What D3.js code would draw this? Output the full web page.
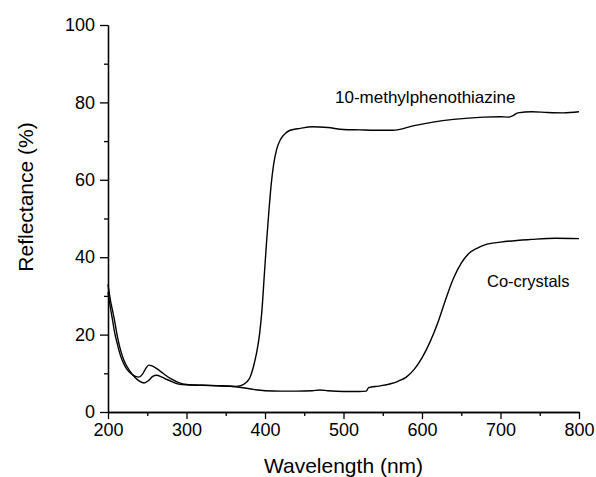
<!DOCTYPE html>
<html>
<head>
<meta charset="utf-8">
<script src="https://cdn.jsdelivr.net/npm/d3@7"></script>
<style>
  body { margin: 0; background: #fff; }
  text { font-family: Arial, "Liberation Sans", sans-serif; fill: #000; }
</style>
</head>
<body>
<svg id="svg"></svg>
<script>
'use strict';

// ================================= Data ======================================
// wavelength (nm) / reflectance (%)
var mptWave = [200, 203, 206, 208, 212, 216, 220, 225, 230, 235, 240, 246, 252, 257, 262, 268, 275, 282, 290, 300,
    320, 340, 360, 366, 372, 377, 381, 385, 389, 393, 396, 399, 402, 405, 408, 411, 415, 420, 425, 432, 445,
    460, 480, 500, 520, 540, 563, 590, 614, 640, 678, 700, 710, 716, 722, 740, 760, 780, 800];
var mptRefl = [33, 29, 26, 24, 19.5, 16, 13.5, 11.5, 10, 8.8, 8, 7.5, 8.2, 9.2, 9.5, 9.1, 8.4, 7.8, 7.2, 7.0,
    6.9, 6.8, 6.6, 6.7, 7.1, 7.8, 9.0, 11.5, 15, 20, 26, 35, 44, 52, 59, 64, 68, 70.5, 71.8, 72.8, 73.3,
    73.7, 73.5, 73.0, 72.9, 72.8, 72.8, 74.0, 74.9, 75.6, 76.2, 76.3, 76.2, 76.6, 77.3, 77.6, 77.4, 77.3, 77.6];

var coWave = [200, 203, 206, 208, 212, 216, 220, 225, 230, 235, 239, 244, 248, 252, 256, 262, 270, 280, 290, 300,
    320, 340, 360, 380, 400, 420, 440, 460, 470, 480, 500, 520, 529, 532, 545, 560, 570, 580, 590, 600,
    610, 620, 630, 640, 650, 660, 670, 680, 700, 740, 770, 800];
var coRefl = [31, 27, 23.5, 21, 17.5, 14.5, 12.5, 10.8, 9.8, 9.2, 9.0, 9.8, 11.2, 12.1, 11.9, 11.2, 10.0, 8.6, 7.6, 7.1,
    6.9, 6.8, 6.6, 6.0, 5.5, 5.4, 5.4, 5.5, 5.7, 5.5, 5.3, 5.3, 5.4, 6.3, 6.7, 7.3, 8.0, 9.0, 11, 14,
    18, 23, 29, 34.5, 38.5, 41, 42.3, 43.2, 43.9, 44.6, 44.9, 44.8];

var xTicks = [200, 300, 400, 500, 600, 700, 800];
var yTicks = [0, 20, 40, 60, 80, 100];

var series = [
    { name: "10-methylphenothiazine", wave: mptWave, refl: mptRefl, lx: 335, ly: 103, size: 17 },
    { name: "Co-crystals", wave: coWave, refl: coRefl, lx: 487, ly: 287, size: 16.5 }
];

// ================================= Chart ======================================
var width = 596;
var height = 477;
var margin = { left: 108, right: 17, top: 25, bottom: 65 };

var svg = d3.select("#svg")
    .attr("width", width)
    .attr("height", height);

var x = d3.scaleLinear().domain([200, 800]).range([margin.left, width - margin.right]);
var y = d3.scaleLinear().domain([0, 100]).range([height - margin.bottom, margin.top]);

var xAxis = d3.axisBottom(x).tickValues(xTicks).tickSize(7).tickPadding(4).tickSizeOuter(0);
var xMinor = d3.axisBottom(x).tickValues(d3.range(250, 800, 100)).tickSize(4).tickFormat("").tickSizeOuter(0);
var yAxis = d3.axisLeft(y).tickValues(yTicks).tickSize(8).tickPadding(5).tickSizeOuter(0);
var yMinor = d3.axisLeft(y).tickValues(d3.range(10, 100, 20)).tickSize(4).tickFormat("").tickSizeOuter(0);

function styleAxis(g) {
    g.selectAll("path, line").attr("stroke", "#000").attr("stroke-width", 1.3);
    g.selectAll("text").style("font-size", "18px").attr("fill", "#000");
}

svg.append("g").attr("transform", "translate(0," + y(0) + ")").call(xMinor).call(styleAxis);
svg.append("g").attr("transform", "translate(0," + y(0) + ")").call(xAxis).call(styleAxis);
svg.append("g").attr("transform", "translate(" + x(200) + ",0)").call(yMinor).call(styleAxis);
svg.append("g").attr("transform", "translate(" + x(200) + ",0)").call(yAxis).call(styleAxis);

var line = d3.line()
    .x(d => x(d[0]))
    .y(d => y(d[1]))
    .curve(d3.curveMonotoneX);

series.forEach(s => {
    let pts = s.wave.map((w, i) => [w, s.refl[i]]);
    svg.append("path")
        .attr("d", line(pts))
        .attr("fill", "none")
        .attr("stroke", "#000")
        .attr("stroke-width", 1.4);
    svg.append("text")
        .attr("x", s.lx)
        .attr("y", s.ly)
        .style("font-size", s.size + "px")
        .text(s.name);
});

svg.append("text")
    .attr("x", (x(200) + x(800)) / 2)
    .attr("y", 473)
    .attr("text-anchor", "middle")
    .style("font-size", "21px")
    .text("Wavelength (nm)");

svg.append("text")
    .attr("transform", "translate(33," + 197 + ") rotate(-90)")
    .attr("text-anchor", "middle")
    .style("font-size", "21px")
    .text("Reflectance (%)");
</script>
</body>
</html>
